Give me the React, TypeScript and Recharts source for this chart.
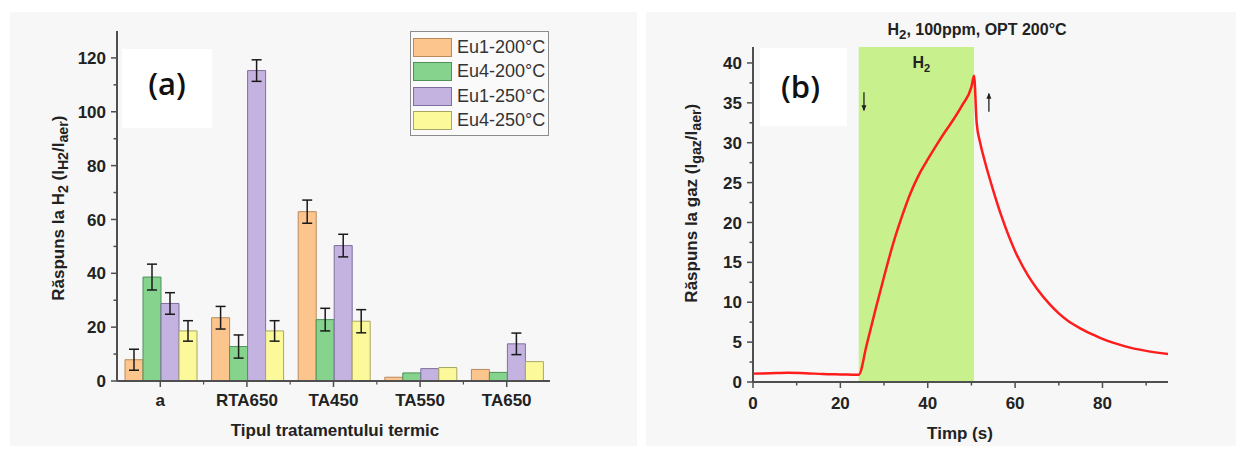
import React from "react";
import {
  BarChart,
  Bar,
  ErrorBar,
  XAxis,
  YAxis,
  Legend,
  LineChart,
  Line,
  ReferenceArea,
  ReferenceDot,
} from "recharts";

// panel (a) – răspuns la H2 pe tip de tratament termic
const treatments = ["a", "RTA650", "TA450", "TA550", "TA650"];
const eu1_200 = [7.9, 23.5, 62.9, 1.4, 4.3];
const eu4_200 = [38.6, 12.8, 22.8, 3.0, 3.2];
const eu1_250 = [28.8, 115.3, 50.3, 4.6, 13.8];
const eu4_250 = [18.6, 18.6, 22.2, 5.0, 7.2];
const errEu1_200 = [3.9, 4.2, 4.3, null, null];
const errEu4_200 = [4.8, 4.3, 4.2, null, null];
const errEu1_250 = [4.0, 4.0, 4.2, null, 4.0];
const errEu4_250 = [3.8, 3.8, 4.3, null, null];
const seriesNames = ["Eu1-200°C", "Eu4-200°C", "Eu1-250°C", "Eu4-250°C"];
const yTicksA = [0, 10, 20, 30, 40, 50, 60, 70, 80, 90, 100, 110, 120];

// panel (b) – răspuns în timp, H2 100ppm
const gasTime = [0, 4, 8, 12, 16, 20, 24.2, 26, 28, 30, 32, 34, 36, 38, 40, 42, 44, 46, 48, 50, 50.6, 51.2, 52, 53, 55, 57, 60, 63, 65, 68, 70, 72, 75, 78, 80, 85, 90, 95];
const gasResponse = [1.05, 1.1, 1.15, 1.1, 1.0, 0.95, 0.9, 4.6, 9.0, 13.2, 17.2, 20.6, 23.6, 26.0, 27.9, 29.7, 31.4, 33.0, 34.8, 37.0, 38.4, 32.5, 30.0, 27.8, 24.0, 20.6, 16.4, 13.3, 11.7, 9.7, 8.6, 7.7, 6.7, 5.9, 5.4, 4.5, 3.9, 3.5];
const gasOn = 24.2;
const gasOff = 50.6;
const xTicksB = [0, 10, 20, 30, 40, 50, 60, 70, 80, 90];
const yTicksB = [0, 2.5, 5, 7.5, 10, 12.5, 15, 17.5, 20, 22.5, 25, 27.5, 30, 32.5, 35, 37.5, 40];

const FONT = '"Liberation Sans", Arial, sans-serif';
const FRAME = "#4f4f4f";
const TXT = "#222";
const FILLS = ["#fdc58e", "#86d38e", "#c4b3e0", "#fbf99a"];
const STROKES = ["#b88a5c", "#4f9158", "#7f6f9f", "#a8a762"];

const barData = treatments.map((cat, i) => ({
  cat,
  eu1_200: eu1_200[i],
  eu4_200: eu4_200[i],
  eu1_250: eu1_250[i],
  eu4_250: eu4_250[i],
  errEu1_200: errEu1_200[i],
  errEu4_200: errEu4_200[i],
  errEu1_250: errEu1_250[i],
  errEu4_250: errEu4_250[i],
}));

const lineData = gasTime.map((t, i) => ({ t, r: gasResponse[i] }));

const isMajor = (v: number, every: number) => Math.abs(v / every - Math.round(v / every)) < 1e-6;

const YTick = ({ x, y, payload, every }: any) => {
  const v = payload.value;
  const major = isMajor(v, every);
  const ax = x + 11;
  return (
    <g>
      <line x1={ax} x2={ax - (major ? 6 : 3.5)} y1={y} y2={y} stroke={FRAME} strokeWidth={1.5} />
      {major && (
        <text x={x} y={y} dy="0.36em" textAnchor="end" fontSize={17} fontWeight="bold" fontFamily={FONT} fill={TXT}>
          {v}
        </text>
      )}
    </g>
  );
};

const NumXTick = ({ x, y, payload, every }: any) => {
  const v = payload.value;
  const major = isMajor(v, every);
  const ay = y - 15;
  return (
    <g>
      <line x1={x} x2={x} y1={ay} y2={ay + (major ? 6 : 3.5)} stroke={FRAME} strokeWidth={1.5} />
      {major && (
        <text x={x} y={y} dy="0.71em" textAnchor="middle" fontSize={17} fontWeight="bold" fontFamily={FONT} fill={TXT}>
          {v}
        </text>
      )}
    </g>
  );
};

const CatXTick = ({ x, y, payload, index }: any) => {
  const ay = y - 13;
  const half = payload.offset || 0;
  return (
    <g>
      <line x1={x} x2={x} y1={ay} y2={ay + 6} stroke={FRAME} strokeWidth={1.5} />
      {index < treatments.length - 1 && (
        <line x1={x + half} x2={x + half} y1={ay} y2={ay + 3.5} stroke={FRAME} strokeWidth={1.2} />
      )}
      <text x={x} y={y} dy="0.71em" textAnchor="middle" fontSize={17} fontWeight="bold" fontFamily={FONT} fill={TXT}>
        {payload.value}
      </text>
    </g>
  );
};

const LegendBox = ({ payload }: any) => {
  const items = (payload || [])
    .map((p: any) => ({ name: p.value, i: seriesNames.indexOf(p.value) }))
    .filter((p: any) => p.i >= 0)
    .sort((a: any, b: any) => a.i - b.i);
  return (
    <div style={{ border: "1px solid #8c8c8c", background: "#fafafa", padding: "3px 0 2px 2px", fontFamily: FONT }}>
      {items.map((it: any) => (
        <div key={it.name} style={{ display: "flex", alignItems: "center", height: 24.5 }}>
          <span style={{ width: 39, height: 19, background: FILLS[it.i], border: `1px solid ${STROKES[it.i]}`, boxSizing: "border-box" }} />
          <span style={{ marginLeft: 5, fontSize: 18, color: "#333" }}>{it.name}</span>
        </div>
      ))}
    </div>
  );
};

const BandLabel = ({ viewBox }: any) => {
  if (!viewBox) return null;
  const cx = viewBox.x + viewBox.width / 2 + 5;
  return (
    <text x={cx} y={viewBox.y + 21} textAnchor="middle" fontFamily={FONT} fontWeight="bold" fill={TXT}>
      <tspan fontSize={16}>H</tspan>
      <tspan fontSize={11} dy={4}>2</tspan>
    </text>
  );
};

const Arrow = ({ cx, cy, up }: any) => {
  if (cx == null || cy == null) return null;
  const top = cy - 9;
  const bot = cy + 9;
  return (
    <g>
      <line x1={cx} x2={cx} y1={top} y2={bot} stroke="#222" strokeWidth={1.3} />
      {up ? (
        <path d={`M${cx - 2.5},${top + 5} L${cx},${top - 1} L${cx + 2.5},${top + 5} Z`} fill="#222" />
      ) : (
        <path d={`M${cx - 2.5},${bot - 5} L${cx},${bot + 1} L${cx + 2.5},${bot - 5} Z`} fill="#222" />
      )}
    </g>
  );
};

const titleStyle: React.CSSProperties = {
  position: "absolute",
  fontFamily: FONT,
  fontWeight: "bold",
  fontSize: 17,
  color: TXT,
  whiteSpace: "nowrap",
  textAlign: "center",
  lineHeight: "22px",
};

export default function App() {
  return (
    <div style={{ position: "absolute", left: 0, top: 0, width: 1239, height: 452, background: "#fff", overflow: "hidden" }}>
      <div style={{ position: "absolute", left: 10, top: 12, width: 627, height: 434, background: "#f7f7f7" }} />
      <div style={{ position: "absolute", left: 646, top: 12, width: 590, height: 434, background: "#f7f7f7" }} />

      <div style={{ position: "absolute", left: 0, top: 0 }}>
        <BarChart
          width={620}
          height={452}
          data={barData}
          margin={{ top: 31, right: 70, bottom: 31, left: 57 }}
          barCategoryGap={8}
          barGap={0}
        >
          <XAxis
            dataKey="cat"
            height={40}
            tickSize={6}
            tickMargin={7}
            tickLine={false}
            interval={0}
            axisLine={{ stroke: FRAME, strokeWidth: 2 }}
            tick={<CatXTick />}
          />
          <XAxis xAxisId="top" dataKey="cat" orientation="top" height={0} tick={false} tickLine={false} axisLine={{ stroke: FRAME, strokeWidth: 2 }} />
          <YAxis
            width={60}
            domain={[0, 130]}
            ticks={yTicksA}
            interval={0}
            tickSize={6}
            tickMargin={5}
            tickLine={false}
            axisLine={{ stroke: FRAME, strokeWidth: 2 }}
            tick={<YTick every={20} />}
          />
          <YAxis yAxisId="right" orientation="right" width={0} domain={[0, 130]} tick={false} tickLine={false} axisLine={{ stroke: FRAME, strokeWidth: 2 }} />
          <Legend
            layout="vertical"
            align="center"
            verticalAlign="middle"
            wrapperStyle={{ left: 410, top: 31, width: 139 }}
            content={<LegendBox />}
          />
          <Bar dataKey="eu1_200" name={seriesNames[0]} fill={FILLS[0]} stroke={STROKES[0]} strokeWidth={1} isAnimationActive={false}>
            <ErrorBar dataKey="errEu1_200" width={5} strokeWidth={1.5} stroke="#1a1a1a" direction="y" />
          </Bar>
          <Bar dataKey="eu4_200" name={seriesNames[1]} fill={FILLS[1]} stroke={STROKES[1]} strokeWidth={1} isAnimationActive={false}>
            <ErrorBar dataKey="errEu4_200" width={5} strokeWidth={1.5} stroke="#1a1a1a" direction="y" />
          </Bar>
          <Bar dataKey="eu1_250" name={seriesNames[2]} fill={FILLS[2]} stroke={STROKES[2]} strokeWidth={1} isAnimationActive={false}>
            <ErrorBar dataKey="errEu1_250" width={5} strokeWidth={1.5} stroke="#1a1a1a" direction="y" />
          </Bar>
          <Bar dataKey="eu4_250" name={seriesNames[3]} fill={FILLS[3]} stroke={STROKES[3]} strokeWidth={1} isAnimationActive={false}>
            <ErrorBar dataKey="errEu4_250" width={5} strokeWidth={1.5} stroke="#1a1a1a" direction="y" />
          </Bar>
        </BarChart>
      </div>

      <div style={{ position: "absolute", left: 620, top: 0 }}>
        <LineChart width={619} height={452} data={lineData} margin={{ top: 47, right: 71, bottom: 30, left: 73 }}>
          <ReferenceArea x1={gasOn} x2={gasOff} fill="#c8f08c" fillOpacity={1} stroke="none" label={<BandLabel />} />
          <XAxis
            dataKey="t"
            type="number"
            domain={[0, 95]}
            ticks={xTicksB}
            interval={0}
            height={40}
            tickSize={6}
            tickMargin={9}
            tickLine={false}
            axisLine={{ stroke: FRAME, strokeWidth: 2 }}
            tick={<NumXTick every={20} />}
          />
          <XAxis xAxisId="top" type="number" orientation="top" domain={[0, 95]} height={0} tick={false} tickLine={false} axisLine={{ stroke: FRAME, strokeWidth: 2 }} />
          <YAxis
            width={60}
            domain={[0, 42]}
            ticks={yTicksB}
            interval={0}
            tickSize={6}
            tickMargin={5}
            tickLine={false}
            axisLine={{ stroke: FRAME, strokeWidth: 2 }}
            tick={<YTick every={5} />}
          />
          <YAxis yAxisId="right" orientation="right" width={0} domain={[0, 42]} tick={false} tickLine={false} axisLine={{ stroke: FRAME, strokeWidth: 2 }} />
          <Line type="monotone" dataKey="r" stroke="#ff1c1c" strokeWidth={2.5} dot={false} isAnimationActive={false} />
          <ReferenceDot x={25.4} y={35.2} shape={(p: any) => <Arrow cx={p.cx} cy={p.cy} />} />
          <ReferenceDot x={54.0} y={35.0} shape={(p: any) => <Arrow cx={p.cx} cy={p.cy} up />} />
        </LineChart>
      </div>

      {/* etichete (a) / (b) */}
      <div style={{ position: "absolute", left: 122, top: 49, width: 90, height: 79, background: "#fff" }} />
      <div style={{ position: "absolute", left: 122, top: 63, width: 90, textAlign: "center", fontFamily: '"Open Sans", sans-serif', fontWeight: 600, fontSize: 31, lineHeight: "40px", color: "#111" }}>
        (a)
      </div>
      <div style={{ position: "absolute", left: 760, top: 48, width: 87, height: 78, background: "#fff" }} />
      <div style={{ position: "absolute", left: 757, top: 66, width: 87, textAlign: "center", fontFamily: '"Open Sans", sans-serif', fontWeight: 600, fontSize: 31, lineHeight: "40px", color: "#111" }}>
        (b)
      </div>

      {/* titluri axe */}
      <div style={{ ...titleStyle, left: 335 - 150, top: 420, width: 300 }}>Tipul tratamentului termic</div>
      <div style={{ ...titleStyle, left: 61 - 150, top: 206 - 11, width: 300, transform: "rotate(-90deg)" }}>
        Răspuns la H<sub>2</sub> (I<sub>H2</sub>/I<sub>aer</sub>)
      </div>
      <div style={{ ...titleStyle, left: 960 - 100, top: 423, width: 200 }}>Timp (s)</div>
      <div style={{ ...titleStyle, left: 694 - 150, top: 201 - 11, width: 300, transform: "rotate(-90deg)" }}>
        Răspuns la gaz (I<sub>gaz</sub>/I<sub>aer</sub>)
      </div>
      <div style={{ ...titleStyle, left: 977 - 150, top: 19, width: 300, fontSize: 16 }}>
        H<sub>2</sub>, 100ppm, OPT 200°C
      </div>
    </div>
  );
}
